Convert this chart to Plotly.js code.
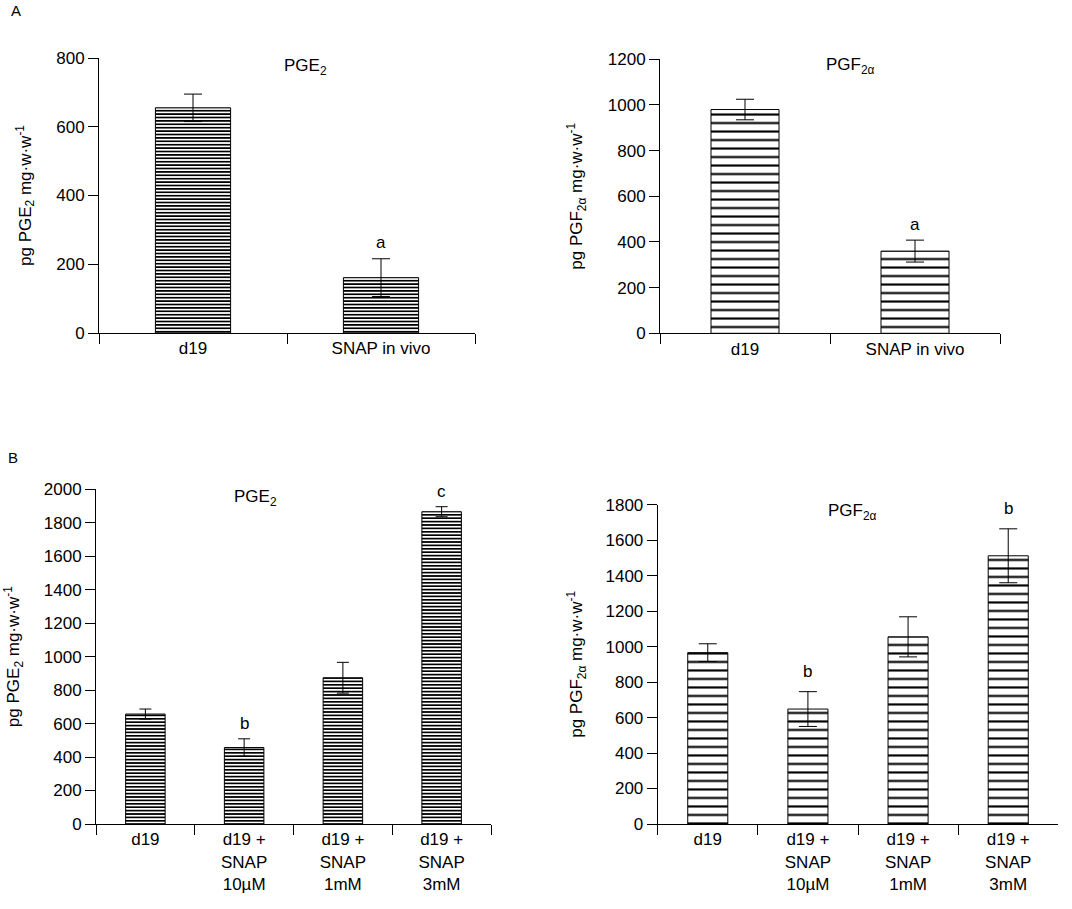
<!DOCTYPE html>
<html>
<head>
<meta charset="utf-8">
<script src="https://cdn.plot.ly/plotly-3.0.1.min.js"></script>
<style>html,body{margin:0;padding:0;background:#fff}#chart{width:1072px;height:909px}</style>
</head>
<body>
<div id="chart"></div>
<script>
// ---- Data ----
const catsA = ['d19', 'SNAP in vivo'];
const pge2A = [655, 161];
const pge2AErr = [40, 55];
const pge2ALetters = ['', 'a'];

const pgf2aA = [980, 360];
const pgf2aAErr = [45, 48];
const pgf2aALetters = ['', 'a'];

const catsB = ['d19', 'd19 +<br>SNAP<br>10µM', 'd19 +<br>SNAP<br>1mM', 'd19 +<br>SNAP<br>3mM'];
const pge2B = [657, 457, 874, 1866];
const pge2BErr = [30, 52, 92, 30];
const pge2BLetters = ['', 'b', '', 'c'];

const pgf2aB = [966, 648, 1055, 1512];
const pgf2aBErr = [50, 98, 113, 152];
const pgf2aBLetters = ['', 'b', '', 'b'];

const ytitlePGE = 'pg PGE<sub>2</sub> mg·w·w<sup>-1</sup>';
const ytitlePGF = 'pg PGF<sub>2α</sub> mg·w·w<sup>-1</sup>';
const panelTitles = ['PGE<sub>2</sub>', 'PGF<sub>2α</sub>', 'PGE<sub>2</sub>', 'PGF<sub>2α</sub>'];

// ---- Styling helpers ----
const FONT = 'Arial, "Liberation Sans", sans-serif';
const FS = 17;
const W = 1072, H = 909;

function barTrace(x, y, err, xa, ya, dense, capw) {
  return {
    type: 'bar', x: x, y: y, xaxis: xa, yaxis: ya, width: 0.4,
    marker: {
      color: 'white',
      line: {color: 'black', width: 1},
      pattern: dense
        ? {shape: '-', fgcolor: 'black', fgopacity: 1, bgcolor: 'white', size: 3.4, solidity: 0.5, fillmode: 'replace'}
        : {shape: '-', fgcolor: 'black', fgopacity: 1, bgcolor: 'white', size: 8.5, solidity: 0.25, fillmode: 'replace'}
    },
    error_y: {type: 'data', array: err, visible: true, color: 'black', thickness: 1, width: capw},
    showlegend: false, hoverinfo: 'skip'
  };
}

function xAxis(px0, px1, anchor) {
  return {
    domain: [px0 / W, px1 / W], anchor: anchor, type: 'category',
    showline: true, linecolor: 'black', linewidth: 1,
    ticks: 'outside', tickson: 'boundaries', ticklen: 10, tickcolor: 'black', tickwidth: 1,
    showgrid: false, zeroline: false, automargin: false,
    tickfont: {family: FONT, size: FS, color: 'black'}
  };
}
function yAxis(pyBottom, pyTop, anchor, maxv, title, standoff) {
  return {
    domain: [1 - pyBottom / H, 1 - pyTop / H], anchor: anchor, range: [0, maxv], dtick: 200,
    showline: true, linecolor: 'black', linewidth: 1,
    ticks: 'outside', ticklen: 10, tickcolor: 'black', tickwidth: 1,
    showgrid: false, zeroline: false, automargin: false,
    tickfont: {family: FONT, size: FS, color: 'black'},
    title: {text: title, standoff: standoff, font: {family: FONT, size: FS, color: 'black'}}
  };
}

const data = [
  barTrace(catsA, pge2A, pge2AErr, 'x', 'y', true, 9),
  barTrace(catsA, pgf2aA, pgf2aAErr, 'x2', 'y2', false, 9),
  barTrace(catsB, pge2B, pge2BErr, 'x3', 'y3', true, 6),
  barTrace(catsB, pgf2aB, pgf2aBErr, 'x4', 'y4', false, 9)
];

const annotations = [];
function letterAnns(cats, vals, errs, letters, xr, yr, shift) {
  letters.forEach((t, i) => {
    if (!t) return;
    annotations.push({xref: xr, yref: yr, x: cats[i], y: vals[i] + errs[i], text: t,
      showarrow: false, yanchor: 'bottom', yshift: shift,
      font: {family: FONT, size: FS, color: 'black'}});
  });
}
letterAnns(catsA, pge2A, pge2AErr, pge2ALetters, 'x', 'y', 5);
letterAnns(catsA, pgf2aA, pgf2aAErr, pgf2aALetters, 'x2', 'y2', 4);
letterAnns(catsB, pge2B, pge2BErr, pge2BLetters, 'x3', 'y3', 4);
letterAnns(catsB, pgf2aB, pgf2aBErr, pgf2aBLetters, 'x4', 'y4', 9);

// panel titles
const titlePos = [[305, 67], [850, 66], [255, 498], [852, 512]];
panelTitles.forEach((t, i) => {
  annotations.push({xref: 'paper', yref: 'paper', x: titlePos[i][0] / W, y: 1 - titlePos[i][1] / H,
    text: t, showarrow: false, xanchor: 'center', yanchor: 'middle',
    font: {family: FONT, size: FS, color: 'black'}});
});
// section labels
annotations.push({xref: 'paper', yref: 'paper', x: 9 / W, y: 1 - 11 / H, text: 'A', showarrow: false,
  xanchor: 'left', yanchor: 'middle', font: {family: FONT, size: 15, color: 'black'}});
annotations.push({xref: 'paper', yref: 'paper', x: 6 / W, y: 1 - 457 / H, text: 'B', showarrow: false,
  xanchor: 'left', yanchor: 'middle', font: {family: FONT, size: 15, color: 'black'}});

const layout = {
  width: W, height: H, margin: {l: 0, r: 0, t: 0, b: 0},
  paper_bgcolor: 'white', plot_bgcolor: 'white',
  font: {family: FONT, size: FS, color: 'black'},
  showlegend: false,
  xaxis: xAxis(99, 475, 'y'),
  yaxis: yAxis(333, 58, 'x', 800, ytitlePGE, 20),
  xaxis2: xAxis(660, 1000, 'y2'),
  yaxis2: yAxis(333.3, 59.3, 'x2', 1200, ytitlePGF, 20),
  xaxis3: xAxis(96, 491, 'y3'),
  yaxis3: yAxis(824, 489.3, 'x3', 2000, ytitlePGE, 19),
  xaxis4: xAxis(657.7, 1058.3, 'y4'),
  yaxis4: yAxis(824, 504.7, 'x4', 1800, ytitlePGF, 18),
  annotations: annotations
};

Plotly.newPlot('chart', data, layout, {displayModeBar: false});
</script>
</body>
</html>
